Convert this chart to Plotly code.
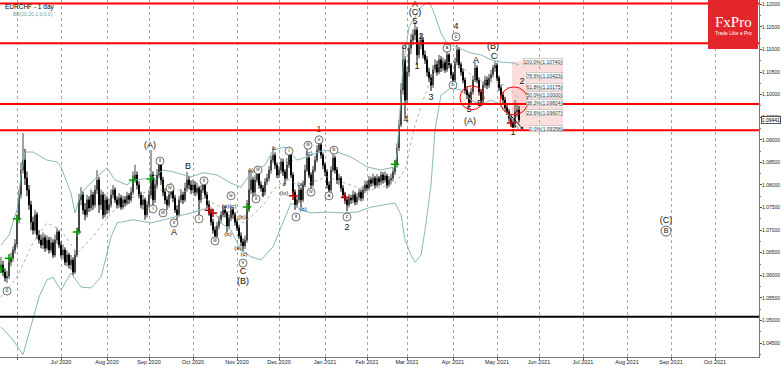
import plotly.graph_objects as go
import pandas as pd

# ---------------- data ----------------
start_date = "2020-05-20"

close = [
1.0623,1.0607,1.0594,1.0598,1.0629,1.0638,1.0656,1.0669,1.0723,1.0778,
1.0833,1.0855,1.0815,1.0789,1.0756,1.0718,1.0700,1.0734,1.0689,1.0678,
1.0667,1.0683,1.0660,1.0678,1.0656,1.0672,1.0645,1.0678,1.0696,1.0667,
1.0645,1.0656,1.0629,1.0645,1.0623,1.0634,1.0607,1.0645,1.0696,1.0767,
1.0778,1.0745,1.0734,1.0767,1.0749,1.0778,1.0756,1.0789,1.0811,1.0756,
1.0778,1.0734,1.0767,1.0745,1.0756,1.0778,1.0789,1.0767,1.0756,1.0771,
1.0751,1.0767,1.0760,1.0776,1.0767,1.0784,1.0811,1.0822,1.0800,1.0778,
1.0756,1.0767,1.0734,1.0756,1.0778,1.0822,1.0767,1.0800,1.0822,1.0844,
1.0811,1.0784,1.0767,1.0756,1.0778,1.0789,1.0771,1.0745,1.0734,1.0767,
1.0778,1.0767,1.0793,1.0811,1.0800,1.0789,1.0800,1.0784,1.0793,1.0767,
1.0789,1.0800,1.0778,1.0756,1.0740,1.0718,1.0700,1.0687,1.0709,1.0723,
1.0734,1.0745,1.0738,1.0709,1.0727,1.0745,1.0734,1.0718,1.0705,1.0687,
1.0674,1.0665,1.0678,1.0745,1.0789,1.0811,1.0784,1.0811,1.0829,1.0800,
1.0793,1.0784,1.0807,1.0815,1.0833,1.0855,1.0866,1.0844,1.0822,1.0833,
1.0851,1.0829,1.0815,1.0844,1.0866,1.0822,1.0784,1.0756,1.0767,1.0789,
1.0767,1.0800,1.0833,1.0860,1.0822,1.0800,1.0833,1.0855,1.0877,1.0889,
1.0866,1.0844,1.0829,1.0800,1.0789,1.0833,1.0860,1.0833,1.0811,1.0815,
1.0793,1.0778,1.0767,1.0756,1.0771,1.0767,1.0778,1.0762,1.0773,1.0784,
1.0771,1.0789,1.0800,1.0793,1.0811,1.0804,1.0815,1.0800,1.0815,1.0807,
1.0822,1.0811,1.0820,1.0800,1.0811,1.0815,1.0829,1.0844,1.0882,1.0933,
1.1010,1.1077,1.0988,1.1050,1.1103,1.1121,1.1132,1.1143,1.1088,1.1110,
1.1121,1.1088,1.1077,1.1050,1.1037,1.1021,1.1055,1.1066,1.1050,1.1077,
1.1059,1.1072,1.1055,1.1088,1.1066,1.1044,1.1032,1.1072,1.1099,1.1066,
1.1050,1.1032,1.1010,1.0999,1.0982,1.1006,1.1032,1.1059,1.1032,1.1006,
1.0988,1.1021,1.1032,1.1021,1.1037,1.1044,1.1059,1.1065,1.1037,1.1015,
1.0999,1.0988,1.0971,1.0962,1.0948,1.0939,1.0928,1.0962,1.0966,1.09441,
]

open_ = [
1.0615,1.0623,1.0607,1.0594,1.0598,1.0629,1.0638,1.0656,1.0669,1.0723,
1.0778,1.0833,1.0855,1.0815,1.0789,1.0756,1.0718,1.0700,1.0734,1.0689,
1.0678,1.0667,1.0683,1.0660,1.0678,1.0656,1.0672,1.0645,1.0678,1.0696,
1.0667,1.0645,1.0656,1.0629,1.0645,1.0623,1.0634,1.0607,1.0645,1.0696,
1.0767,1.0778,1.0745,1.0734,1.0767,1.0749,1.0778,1.0756,1.0789,1.0811,
1.0756,1.0778,1.0734,1.0767,1.0745,1.0756,1.0778,1.0789,1.0767,1.0756,
1.0771,1.0751,1.0767,1.0760,1.0776,1.0767,1.0784,1.0811,1.0822,1.0800,
1.0778,1.0756,1.0767,1.0734,1.0756,1.0778,1.0822,1.0767,1.0800,1.0822,
1.0844,1.0811,1.0784,1.0767,1.0756,1.0778,1.0789,1.0771,1.0745,1.0734,
1.0767,1.0778,1.0767,1.0793,1.0811,1.0800,1.0789,1.0800,1.0784,1.0793,
1.0767,1.0789,1.0800,1.0778,1.0756,1.0740,1.0718,1.0700,1.0687,1.0709,
1.0723,1.0734,1.0745,1.0738,1.0709,1.0727,1.0745,1.0734,1.0718,1.0705,
1.0687,1.0674,1.0665,1.0678,1.0745,1.0789,1.0811,1.0784,1.0811,1.0829,
1.0800,1.0793,1.0784,1.0807,1.0815,1.0833,1.0855,1.0866,1.0844,1.0822,
1.0833,1.0851,1.0829,1.0815,1.0844,1.0866,1.0822,1.0784,1.0756,1.0767,
1.0789,1.0767,1.0800,1.0833,1.0860,1.0822,1.0800,1.0833,1.0855,1.0877,
1.0889,1.0866,1.0844,1.0829,1.0800,1.0789,1.0833,1.0860,1.0833,1.0811,
1.0815,1.0793,1.0778,1.0767,1.0756,1.0771,1.0767,1.0778,1.0762,1.0773,
1.0784,1.0771,1.0789,1.0800,1.0793,1.0811,1.0804,1.0815,1.0800,1.0815,
1.0807,1.0822,1.0811,1.0820,1.0800,1.0811,1.0815,1.0829,1.0844,1.0882,
1.0933,1.1010,1.1077,1.0988,1.1050,1.1103,1.1121,1.1132,1.1143,1.1088,
1.1110,1.1121,1.1088,1.1077,1.1050,1.1037,1.1021,1.1055,1.1066,1.1050,
1.1077,1.1059,1.1072,1.1055,1.1088,1.1066,1.1044,1.1032,1.1072,1.1099,
1.1066,1.1050,1.1032,1.1010,1.0999,1.0982,1.1006,1.1032,1.1059,1.1032,
1.1006,1.0988,1.1021,1.1032,1.1021,1.1037,1.1044,1.1059,1.1065,1.1037,
1.1015,1.0999,1.0988,1.0971,1.0962,1.0948,1.0939,1.0928,1.0962,1.0966,
]

high = [
1.0640,1.0632,1.0615,1.0610,1.0638,1.0650,1.0664,1.0680,1.0735,1.0790,
1.0850,1.0915,1.0880,1.0830,1.0800,1.0765,1.0730,1.0745,1.0740,1.0700,
1.0690,1.0695,1.0690,1.0688,1.0685,1.0685,1.0680,1.0690,1.0705,1.0700,
1.0675,1.0668,1.0662,1.0655,1.0650,1.0645,1.0640,1.0655,1.0705,1.0780,
1.0795,1.0785,1.0760,1.0778,1.0775,1.0790,1.0785,1.0800,1.0833,1.0818,
1.0790,1.0785,1.0780,1.0775,1.0770,1.0790,1.0800,1.0795,1.0775,1.0782,
1.0778,1.0776,1.0775,1.0785,1.0782,1.0795,1.0830,1.0845,1.0830,1.0808,
1.0785,1.0778,1.0772,1.0765,1.0790,1.0877,1.0830,1.0812,1.0835,1.0855,
1.0850,1.0818,1.0792,1.0775,1.0790,1.0805,1.0795,1.0778,1.0755,1.0775,
1.0790,1.0785,1.0805,1.0829,1.0820,1.0810,1.0812,1.0808,1.0805,1.0798,
1.0800,1.0815,1.0808,1.0785,1.0765,1.0748,1.0725,1.0708,1.0718,1.0732,
1.0742,1.0755,1.0753,1.0742,1.0735,1.0753,1.0750,1.0740,1.0725,1.0712,
1.0695,1.0682,1.0688,1.0767,1.0833,1.0833,1.0818,1.0822,1.0842,1.0835,
1.0808,1.0800,1.0815,1.0825,1.0842,1.0865,1.0882,1.0872,1.0850,1.0842,
1.0860,1.0858,1.0835,1.0852,1.0877,1.0870,1.0828,1.0790,1.0778,1.0800,
1.0795,1.0810,1.0845,1.0884,1.0866,1.0828,1.0842,1.0865,1.0888,1.0898,
1.0895,1.0872,1.0850,1.0835,1.0808,1.0842,1.0875,1.0865,1.0840,1.0825,
1.0820,1.0800,1.0785,1.0772,1.0780,1.0778,1.0788,1.0785,1.0782,1.0792,
1.0790,1.0798,1.0810,1.0808,1.0820,1.0818,1.0825,1.0820,1.0824,1.0820,
1.0830,1.0828,1.0830,1.0825,1.0820,1.0825,1.0838,1.0855,1.0892,1.0945,
1.1025,1.1110,1.1085,1.1062,1.1115,1.1135,1.1145,1.1161,1.1150,1.1122,
1.1135,1.1128,1.1098,1.1085,1.1060,1.1045,1.1065,1.1078,1.1075,1.1088,
1.1085,1.1082,1.1078,1.1099,1.1092,1.1070,1.1050,1.1082,1.1110,1.1105,
1.1072,1.1058,1.1038,1.1018,1.1005,1.1015,1.1042,1.1072,1.1065,1.1038,
1.1012,1.1030,1.1042,1.1040,1.1046,1.1055,1.1066,1.1074,1.1070,1.1042,
1.1022,1.1006,1.0995,1.0978,1.0968,1.0955,1.0945,1.0988,1.0982,1.0975,
]

low = [
1.0605,1.0598,1.0586,1.0583,1.0592,1.0620,1.0630,1.0648,1.0662,1.0715,
1.0770,1.0825,1.0800,1.0775,1.0745,1.0700,1.0690,1.0692,1.0680,1.0670,
1.0660,1.0658,1.0652,1.0655,1.0648,1.0650,1.0638,1.0640,1.0670,1.0660,
1.0638,1.0635,1.0622,1.0620,1.0615,1.0612,1.0600,1.0603,1.0640,1.0690,
1.0755,1.0735,1.0722,1.0728,1.0740,1.0742,1.0745,1.0750,1.0780,1.0738,
1.0745,1.0725,1.0728,1.0735,1.0738,1.0750,1.0770,1.0760,1.0748,1.0750,
1.0745,1.0746,1.0752,1.0755,1.0758,1.0762,1.0778,1.0805,1.0790,1.0770,
1.0748,1.0745,1.0723,1.0728,1.0750,1.0770,1.0749,1.0760,1.0792,1.0815,
1.0800,1.0775,1.0758,1.0745,1.0750,1.0770,1.0762,1.0738,1.0723,1.0730,
1.0760,1.0758,1.0762,1.0785,1.0790,1.0780,1.0782,1.0775,1.0778,1.0729,
1.0760,1.0782,1.0770,1.0748,1.0732,1.0710,1.0692,1.0678,1.0682,1.0702,
1.0715,1.0728,1.0728,1.0696,1.0702,1.0720,1.0725,1.0710,1.0698,1.0680,
1.0665,1.0652,1.0658,1.0672,1.0740,1.0780,1.0771,1.0778,1.0805,1.0792,
1.0785,1.0773,1.0778,1.0800,1.0808,1.0825,1.0848,1.0835,1.0815,1.0815,
1.0825,1.0820,1.0800,1.0810,1.0838,1.0815,1.0775,1.0745,1.0750,1.0760,
1.0751,1.0762,1.0795,1.0828,1.0815,1.0789,1.0795,1.0828,1.0850,1.0870,
1.0858,1.0835,1.0820,1.0792,1.0776,1.0782,1.0828,1.0825,1.0802,1.0800,
1.0785,1.0770,1.0758,1.0742,1.0750,1.0758,1.0760,1.0755,1.0756,1.0766,
1.0764,1.0765,1.0782,1.0786,1.0788,1.0796,1.0798,1.0792,1.0795,1.0798,
1.0800,1.0803,1.0805,1.0792,1.0795,1.0802,1.0808,1.0822,1.0838,1.0875,
1.0928,1.1000,1.0948,1.0980,1.1040,1.1090,1.1110,1.1120,1.1066,1.1080,
1.1100,1.1080,1.1068,1.1040,1.1028,1.1008,1.1015,1.1048,1.1042,1.1045,
1.1050,1.1052,1.1048,1.1050,1.1058,1.1035,1.1021,1.1028,1.1065,1.1058,
1.1042,1.1025,1.1002,1.0990,1.0971,1.0978,1.1000,1.1028,1.1025,1.0998,
1.0979,1.0982,1.1015,1.1012,1.1015,1.1030,1.1038,1.1050,1.1030,1.1008,
1.0990,1.0980,1.0962,1.0955,1.0940,1.0932,1.0926,1.0927,1.0950,1.0938,
]

bb_up_bar = [0,4,8,10,12,16,23,28,30,35,37,40,48,53,57,63,66,75,81,86,95,101,108,115,120,125,
             132,136,142,148,153,161,168,175,183,190,197,198,201,204,210,214,216,220,223,228,
             235,240,245,250,256,259]
bb_upper = [1.0667,1.0689,1.0745,1.0822,1.0873,1.0873,1.0855,1.0851,1.0840,1.0782,1.0738,1.0782,
            1.0818,1.0838,1.0811,1.0800,1.0811,1.0815,1.0833,1.0829,1.0818,1.0827,1.0822,1.0804,
            1.0795,1.0827,1.0844,1.0877,1.0884,1.0855,1.0862,1.0877,1.0873,1.0862,1.0840,1.0833,
            1.0840,1.0870,1.1061,1.1150,1.1194,1.1205,1.1187,1.1136,1.1114,1.1105,1.1092,1.1088,
            1.1077,1.1072,1.1070,1.1066]
bb_mid_bar = [0,8,16,23,30,38,46,55,66,75,90,103,115,121,125,132,136,143,150,156,163,170,178,185,
              197,202,207,212,217,222,227,232,237,242,247,252,259]
bb_mid = [1.0552,1.0596,1.0672,1.0716,1.0700,1.0649,1.0685,1.0738,1.0773,1.0789,1.0789,1.0767,
          1.0738,1.0716,1.0729,1.0760,1.0789,1.0815,1.0795,1.0807,1.0818,1.0807,1.0795,1.0789,
          1.0804,1.0833,1.0933,1.0999,1.1059,1.1072,1.1070,1.1055,1.1037,1.1028,1.1028,1.1021,1.0992]
bb_lo_bar = [0,6,11,13,16,19,23,26,30,35,40,45,50,55,58,66,75,85,95,105,110,115,120,125,130,136,
             140,145,150,155,163,170,178,185,197,200,202,205,207,210,212,215,217,220,225,230,235,
             240,245,250,255,259]
bb_lower = [1.0486,1.0457,1.0424,1.0457,1.0505,1.0552,1.0590,1.0596,1.0567,1.0605,1.0574,1.0572,
            1.0596,1.0685,1.0716,1.0723,1.0716,1.0727,1.0738,1.0751,1.0716,1.0700,1.0656,1.0641,
            1.0634,1.0663,1.0707,1.0760,1.0745,1.0738,1.0740,1.0738,1.0740,1.0751,1.0760,1.0734,
            1.0678,1.0645,1.0629,1.0645,1.0700,1.0800,1.0922,1.0999,1.1015,1.1010,1.0988,1.0977,
            1.0988,1.0977,1.0948,1.0922]

# horizontal levels
red_levels = [1.1202, 1.1114, 1.0979, 1.0921]
black_level = 1.0508
last_price = 1.09441

# Fibonacci retracement
fib_names = ["100.0%", "78.6%", "61.8%", "50.0%", "38.2%", "23.6%", "0.0%"]
fib_values = [1.10740, 1.10423, 1.10175, 1.10000, 1.09824, 1.09607, 1.09258]
fib_bar_start = 255.5
fib_bar_end = 281

# wave labels (bar number, price)
big_text = ["(A)", "A", "B", "C", "(B)", "2", "A", "(C)", "5", "3", "4", "2", "1", "3", "4",
            "A", "B", "5", "(A)", "(B)", "C", "1", "2", "(C)"]
big_bar = [74.5, 86.5, 93.5, 121, 121, 173, 207, 207, 207, 201.5, 202.5, 210, 208, 215, 227.5,
           237.5, 239.5, 234, 234.5, 246, 246.5, 256, 260.5, 332.5]
big_price = [1.0886, 1.0694, 1.0840, 1.0607, 1.0585, 1.0705, 1.1200, 1.1181, 1.1161, 1.1105, 1.0944,
             1.1128, 1.1061, 1.0993, 1.1150, 1.1074, 1.0979, 1.0966, 1.0939, 1.1105, 1.1083,
             1.0915, 1.1028, 1.0720]
red_text = ["1"]
red_bar = [159]
red_price = [1.0922]

small_text = ["a", "b", "c", "(v)", "(iv)", "(a)(c)", "(b)", "(b)", "(a)", "(c)", "(i)", "(a)",
              "(b)", "(c)"]
small_bar = [131, 136.5, 141.5, 144, 141.5, 114, 113.5, 120.5, 118.5, 121.5, 125, 150, 151, 154]
small_price = [1.0778, 1.0880, 1.0800, 1.0855, 1.0780, 1.0753, 1.0691, 1.0727, 1.0660, 1.0647,
               1.0833, 1.0800, 1.0745, 1.0869]

circ_text = ["0", "ii", "i", "iii", "iv", "v", "ii", "i", "iv", "iii", "v", "iii", "ii", "i", "ii",
             "iii", "iv", "v", "a", "b", "c", "a", "b", "c"]
circ_bar = [3, 79.5, 76, 81, 84.5, 86.5, 101.5, 99, 115, 107, 121, 128.5, 127.5, 144, 147.5, 153.5,
            155, 159, 164, 166.5, 173, 223, 226, 227.5]
circ_price = [1.0565, 1.0853, 1.0747, 1.0738, 1.0793, 1.0716, 1.0809, 1.0725, 1.0776, 1.0676,
              1.0627, 1.0833, 1.0769, 1.0875, 1.0729, 1.0888, 1.0784, 1.0900, 1.0776, 1.0877,
              1.0729, 1.1103, 1.1021, 1.1128]
circ_big_text = ["B"]
circ_big_bar = [332.5]
circ_big_price = [1.0698]

green_bar = [0, 4, 8, 38, 66, 75, 123, 197]
green_price = [1.0614, 1.0638, 1.0725, 1.0696, 1.0811, 1.0813, 1.0751, 1.0846]
redx_bar = [104, 106, 146, 172, 255]
redx_price = [1.0744, 1.0738, 1.0776, 1.0773, 1.0937]

circle_bar = [235.5, 256.5]
circle_price = [1.0993, 1.0986]

proj_bar = [255, 260.5]
proj_price = [1.0953, 1.0926]

tick_months = ["2020-06-01", "2020-07-01", "2020-08-01", "2020-09-01", "2020-10-01", "2020-11-01",
               "2020-12-01", "2021-01-01", "2021-02-01", "2021-03-01", "2021-04-01", "2021-05-01",
               "2021-06-01", "2021-07-01", "2021-08-01", "2021-09-01", "2021-10-01"]
tick_labels = ["", "Jul 2020", "Aug 2020", "Sep 2020", "Oct 2020", "Nov 2020", "Dec 2020",
               "Jan 2021", "Feb 2021", "Mar 2021", "Apr 2021", "May 2021", "Jun 2021", "Jul 2021",
               "Aug 2021", "Sep 2021", "Oct 2021"]

# ---------------- layout constants ----------------
W, H = 782, 366
ML, MR, MT, MB = 0, 23, 0, 9
PW, PH = W - ML - MR, H - MT - MB
XR = [-0.5, 379]
YR = [1.04191, 1.12095]
px_x = (XR[1] - XR[0]) / PW
px_y = (YR[1] - YR[0]) / PH
FONT = "Liberation Sans, Arial, sans-serif"

all_days = pd.bdate_range(start_date, "2021-10-29")
tickvals = [int((all_days < pd.Timestamp(m)).sum()) for m in tick_months]
bars = list(range(len(close)))

fig = go.Figure()

# Bollinger
band_col = "#86b8b8"
fig.add_trace(go.Scatter(x=bb_up_bar, y=bb_upper, mode="lines",
                         line=dict(color=band_col, width=1), hoverinfo="skip"))
fig.add_trace(go.Scatter(x=bb_lo_bar, y=bb_lower, mode="lines",
                         line=dict(color=band_col, width=1), hoverinfo="skip"))
fig.add_trace(go.Scatter(x=bb_mid_bar, y=bb_mid, mode="lines",
                         line=dict(color="#9a9a9a", width=0.8, dash="dot"), hoverinfo="skip"))

# candles
fig.add_trace(go.Candlestick(
    x=bars, open=open_, high=high, low=low, close=close,
    increasing=dict(line=dict(color="#444444", width=1), fillcolor="#d8d8d8"),
    decreasing=dict(line=dict(color="#000000", width=1), fillcolor="#000000"),
    whiskerwidth=0, hoverinfo="skip"))

# crosses
fig.add_trace(go.Scatter(x=green_bar, y=green_price, mode="markers",
                         marker=dict(symbol="cross-thin", size=6,
                                     line=dict(color="#00a000", width=1.5))))
fig.add_trace(go.Scatter(x=redx_bar, y=redx_price, mode="markers",
                         marker=dict(symbol="cross-thin", size=6,
                                     line=dict(color="#c00000", width=1.5))))

# projection
fig.add_trace(go.Scatter(x=proj_bar, y=proj_price, mode="lines+markers",
                         line=dict(color="#000", width=1),
                         marker=dict(size=[0, 4], color="#000")))

# labels
fig.add_trace(go.Scatter(x=big_bar, y=big_price, mode="text", text=big_text,
                         textfont=dict(family=FONT, size=9, color="#111")))
fig.add_trace(go.Scatter(x=red_bar, y=red_price, mode="text", text=red_text,
                         textfont=dict(family=FONT, size=9, color="#8b1a1a")))
fig.add_trace(go.Scatter(x=small_bar, y=small_price, mode="text", text=small_text,
                         textfont=dict(family=FONT, size=6, color="#111")))
fig.add_trace(go.Scatter(x=circ_bar, y=circ_price, mode="markers+text", text=circ_text,
                         marker=dict(symbol="circle", size=8, color="white",
                                     line=dict(color="#333", width=0.7)),
                         textfont=dict(family=FONT, size=5, color="#111")))
fig.add_trace(go.Scatter(x=circ_big_bar, y=circ_big_price, mode="markers+text",
                         text=circ_big_text,
                         marker=dict(symbol="circle", size=10, color="white",
                                     line=dict(color="#333", width=0.8)),
                         textfont=dict(family=FONT, size=7, color="#111")))

shapes = []
# fib box
shapes.append(dict(type="rect", xref="x", yref="y", x0=fib_bar_start, x1=fib_bar_end,
                   y0=fib_values[-1], y1=fib_values[0], fillcolor="rgba(240,140,140,0.28)",
                   line=dict(width=0), layer="below"))
# horizontal lines
for lv in red_levels:
    shapes.append(dict(type="line", xref="paper", yref="y", x0=0, x1=1, y0=lv, y1=lv,
                       line=dict(color="#ff0000", width=2)))
shapes.append(dict(type="line", xref="paper", yref="y", x0=0, x1=1, y0=black_level,
                   y1=black_level, line=dict(color="#000000", width=2)))
# red circles
for cb, cp, r in zip(circle_bar, circle_price, [12, 14]):
    shapes.append(dict(type="circle", xref="x", yref="y",
                       x0=cb - r * px_x, x1=cb + r * px_x, y0=cp - r * px_y, y1=cp + r * px_y,
                       line=dict(color="#ff0000", width=1), fillcolor="rgba(255,0,0,0.06)"))
# FxPro box
shapes.append(dict(type="rect", xref="paper", yref="paper", x0=708 / PW, x1=758 / PW,
                   y0=1 - 49 / PH, y1=1, fillcolor="#e3262c", line=dict(width=0)))

annotations = []
for nm, v in zip(fib_names, fib_values):
    annotations.append(dict(x=fib_bar_end, y=v, xref="x", yref="y", xanchor="right",
                            yanchor="middle", text=f"{nm}({v:.5f})", showarrow=False,
                            font=dict(family=FONT, size=5, color="#333"), bgcolor="white",
                            bordercolor="#b0b0b0", borderwidth=0.6, borderpad=0))
annotations.append(dict(x=1, y=last_price, xref="paper", yref="y", xanchor="left",
                        yanchor="middle", text=f"{last_price:.5f}", showarrow=False,
                        font=dict(family=FONT, size=5, color="#000"), bgcolor="white",
                        bordercolor="#333", borderwidth=0.8, borderpad=0, xshift=2))
annotations.append(dict(x=0.004, y=1, xref="paper", yref="paper", xanchor="left", yanchor="top",
                        text="EURCHF - 1 day", showarrow=False, yshift=-1,
                        font=dict(family=FONT, size=6.5, color="#000")))
annotations.append(dict(x=0.014, y=1, xref="paper", yref="paper", xanchor="left", yanchor="top",
                        text="BB(20,20,2.0,0.0)", showarrow=False, yshift=-9,
                        font=dict(family=FONT, size=5, color="#6aa6a6")))
annotations.append(dict(x=733 / PW, y=1 - 22 / PH, xref="paper", yref="paper",
                        xanchor="center", yanchor="middle", text="FxPro", showarrow=False,
                        font=dict(family="Liberation Serif, DejaVu Serif, serif", size=15,
                                  color="white")))
annotations.append(dict(x=733 / PW, y=1 - 33 / PH, xref="paper", yref="paper",
                        xanchor="center", yanchor="middle", text="Trade Like a Pro",
                        showarrow=False, font=dict(family=FONT, size=5, color="white")))

fig.update_layout(
    width=W, height=H, margin=dict(l=ML, r=MR, t=MT, b=MB),
    paper_bgcolor="white", plot_bgcolor="white", showlegend=False,
    shapes=shapes, annotations=annotations,
    xaxis=dict(range=XR, tickmode="array", tickvals=tickvals, ticktext=tick_labels,
               showgrid=True, gridcolor="#a8a8a8", griddash="dot", gridwidth=0.6,
               ticks="outside", ticklen=2, tickcolor="#555", ticklabelstandoff=-3,
               showline=True, linecolor="#777", linewidth=1, mirror=True,
               tickfont=dict(family=FONT, size=5.5, color="#222"),
               rangeslider=dict(visible=False), zeroline=False, automargin=False),
    yaxis=dict(range=YR, side="right", tick0=1.045, dtick=0.005, tickformat=".5f",
               showgrid=False, ticks="outside", ticklen=2, tickcolor="#555",
               ticklabelstandoff=-1,
               minor=dict(dtick=0.0025, ticklen=1, tickcolor="#777", ticks="outside"),
               showline=True, linecolor="#777", linewidth=1, mirror=True,
               tickfont=dict(family=FONT, size=5, color="#222"), zeroline=False,
               automargin=False),
)

fig.write_html("out.html", config={"displayModeBar": False},
               post_script="document.body.style.margin='0';document.body.style.padding='0';")
